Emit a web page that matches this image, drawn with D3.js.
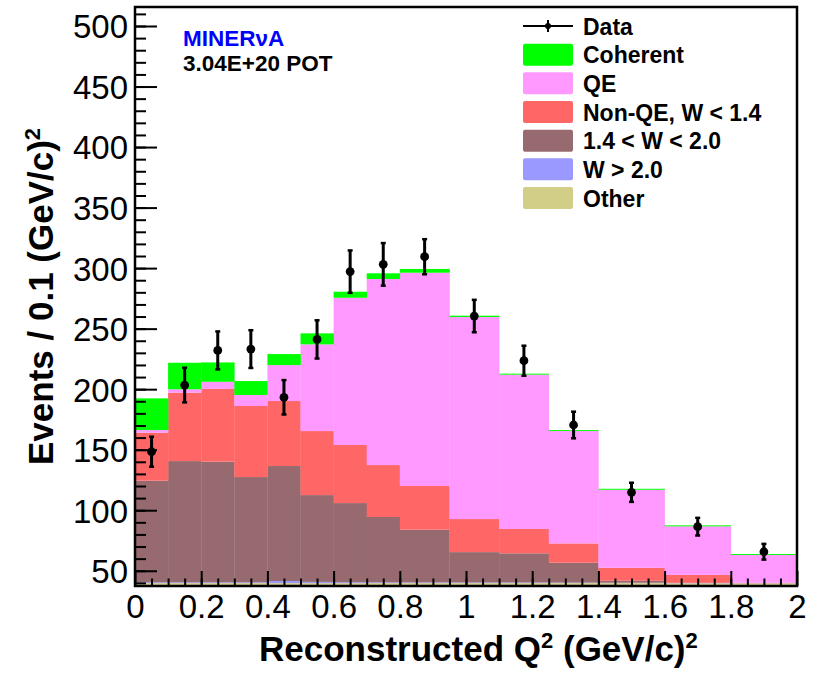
<!DOCTYPE html>
<html>
<head>
<meta charset="utf-8">
<script src="https://cdn.jsdelivr.net/npm/d3@7"></script>
<style>
  html, body { margin: 0; padding: 0; background: #ffffff; }
  svg { display: block; }
  text { font-family: "Liberation Sans", Arial, Helvetica, sans-serif; }
</style>
</head>
<body>
<svg id="chart" width="817" height="686"></svg>
<script>
// ---------------- DATA ----------------
const binEdges = [0, 0.1, 0.2, 0.3, 0.4, 0.5, 0.6, 0.7, 0.8, 0.95, 1.1, 1.25, 1.4, 1.6, 1.8, 2.0];

// stacked MC components (bottom to top), events / 0.1 (GeV/c)^2
const other     = [39.8, 39.8, 39.8, 39.8, 39.8, 39.8, 39.8, 39.8, 39.8, 39.8, 39.8, 39.8, 39.8, 39.6, 39.6];
const wAbove2   = [0.7, 0.7, 0.7, 0.7, 1.7, 1.0, 0.8, 0.7, 0.6, 0.5, 0.5, 0.4, 0.3, 0.2, 0.1];
const w14to20   = [83.9, 100.1, 99.6, 86.9, 95.0, 71.7, 65.3, 53.9, 43.5, 25.1, 24.1, 16.4, 1.6, 0.2, 0.1];
const nonQE     = [39.6, 56.5, 60.1, 58.7, 53.7, 52.9, 48.0, 42.9, 36.1, 27.3, 20.1, 16.0, 10.7, 6.6, 0.2];
const qe        = [2.2, 2.8, 5.9, 9.1, 29.7, 71.6, 121.6, 153.7, 176.2, 166.9, 127.5, 92.8, 64.5, 40.1, 23.0];
const coherent  = [26.2, 21.9, 16.0, 11.5, 9.1, 9.1, 5.0, 4.7, 3.1, 1.1, 0.8, 0.8, 0.8, 0.8, 0.8];

// data points
const dataX   = [0.05, 0.15, 0.25, 0.35, 0.45, 0.55, 0.65, 0.75, 0.875, 1.025, 1.175, 1.325, 1.5, 1.7, 1.9];
const dataY   = [148.3, 203.4, 232.0, 233.1, 193.3, 241.1, 297.1, 303.1, 309.4, 260.4, 223.5, 170.4, 114.8, 86.4, 65.7];
const dataErr = [12.4, 14.3, 15.7, 15.6, 14.2, 15.8, 17.5, 17.6, 14.5, 13.4, 12.4, 11.0, 7.9, 7.3, 6.5];

const seriesKeys   = ["other", "wAbove2", "w14to20", "nonQE", "qe", "coherent"];
const seriesLabels = {coherent: "Coherent", qe: "QE", nonQE: "Non-QE, W < 1.4", w14to20: "1.4 < W < 2.0", wAbove2: "W > 2.0", other: "Other"};
const legendOrder  = ["coherent", "qe", "nonQE", "w14to20", "wAbove2", "other"];

const xTickLabels = [0, 0.2, 0.4, 0.6, 0.8, 1, 1.2, 1.4, 1.6, 1.8, 2];
const yTickLabels = [50, 100, 150, 200, 250, 300, 350, 400, 450, 500];

// ---------------- STYLE ----------------
const colors = {
  coherent: "#00ff00",
  qe: "#ff99ff",
  nonQE: "#ff6666",
  w14to20: "#966a6f",
  wAbove2: "#9999ff",
  other: "#d2cd87"
};

const L = 135, R = 797, T = 7, B = 586;
const svg = d3.select("#chart");

const x = d3.scaleLinear().domain([0, 2]).range([L, R]);
const y = d3.scaleLinear().domain([37.4, 515.7]).range([B, T]);

const series = {other, wAbove2, w14to20, nonQE, qe, coherent};
const rows = binEdges.slice(0, -1).map((e, i) => {
  const r = {x0: e, x1: binEdges[i + 1]};
  seriesKeys.forEach(k => r[k] = series[k][i]);
  return r;
});
const stacked = d3.stack().keys(seriesKeys)(rows);

svg.append("defs").append("clipPath").attr("id", "plotclip")
  .append("rect").attr("x", L).attr("y", T).attr("width", R - L).attr("height", B - T);

const gBars = svg.append("g").attr("clip-path", "url(#plotclip)");
stacked.forEach(layer => {
  gBars.append("g").attr("fill", colors[layer.key])
    .selectAll("rect").data(layer).join("rect")
    .attr("x", d => x(d.data.x0))
    .attr("width", d => x(d.data.x1) - x(d.data.x0) + 0.3)
    .attr("y", d => y(d[1]))
    .attr("height", d => Math.max(0, y(Math.max(d[0], 0)) - y(d[1])));
});

// ---------------- AXES ----------------
const fontTick = 33;
// y minor
svg.append("g").attr("transform", `translate(${L},0)`)
  .call(d3.axisLeft(y).tickValues(d3.range(40, 516, 10)).tickSize(-11).tickFormat(""))
  .call(g => g.select(".domain").remove())
  .call(g => g.selectAll("line").attr("stroke", "#000").attr("stroke-width", 2));
// y major
svg.append("g").attr("transform", `translate(${L},0)`)
  .call(d3.axisLeft(y).tickValues(yTickLabels).tickSize(-22).tickPadding(7).tickFormat(d3.format("d")))
  .call(g => g.select(".domain").remove())
  .call(g => g.selectAll("line").attr("stroke", "#000").attr("stroke-width", 2))
  .call(g => g.selectAll("text").attr("fill", "#000").style("font-size", fontTick + "px").attr("dy", "0.36em"));

// x minor
svg.append("g").attr("transform", `translate(0,${B})`)
  .call(d3.axisBottom(x).tickValues(d3.range(0.05, 2, 0.05)).tickSize(-7.5).tickFormat(""))
  .call(g => g.select(".domain").remove())
  .call(g => g.selectAll("line").attr("stroke", "#000").attr("stroke-width", 2));
// x major
svg.append("g").attr("transform", `translate(0,${B})`)
  .call(d3.axisBottom(x).tickValues(xTickLabels).tickSize(-15).tickPadding(9).tickFormat(d3.format("")))
  .call(g => g.select(".domain").remove())
  .call(g => g.selectAll("line").attr("stroke", "#000").attr("stroke-width", 2))
  .call(g => g.selectAll("text").attr("fill", "#000").style("font-size", fontTick + "px"));

// frame
svg.append("rect").attr("x", L).attr("y", T).attr("width", R - L).attr("height", B - T)
  .attr("fill", "none").attr("stroke", "#000").attr("stroke-width", 2.5);

// ---------------- DATA POINTS ----------------
const gData = svg.append("g");
dataX.forEach((xv, i) => {
  const cx = x(xv), top = y(dataY[i] + dataErr[i]), bot = y(dataY[i] - dataErr[i]);
  gData.append("line").attr("x1", cx).attr("x2", cx).attr("y1", top).attr("y2", bot)
    .attr("stroke", "#000").attr("stroke-width", 3);
  [top, bot].forEach(yy => gData.append("line")
    .attr("x1", cx - 2.5).attr("x2", cx + 2.5).attr("y1", yy).attr("y2", yy)
    .attr("stroke", "#000").attr("stroke-width", 2.5));
  gData.append("circle").attr("cx", cx).attr("cy", y(dataY[i])).attr("r", 4.4).attr("fill", "#000");
});

// ---------------- LABELS ----------------
svg.append("text").attr("x", 183).attr("y", 46)
  .attr("fill", "#0000ff").style("font-size", "22.5px").style("font-weight", "bold")
  .text("MINERνA");
svg.append("text").attr("x", 183).attr("y", 71)
  .attr("fill", "#000").style("font-size", "22.5px").style("font-weight", "bold")
  .text("3.04E+20 POT");

// x title
const xt = svg.append("text").attr("x", 259).attr("y", 661)
  .attr("fill", "#000").style("font-size", "35px").style("font-weight", "bold");
xt.append("tspan").text("Reconstructed Q");
xt.append("tspan").attr("dy", -13).style("font-size", "22px").text("2");
xt.append("tspan").attr("dy", 13).text(" (GeV/c)");
xt.append("tspan").attr("dy", -13).style("font-size", "22px").text("2");

// y title
const yt = svg.append("text").attr("transform", "translate(53,465) rotate(-90)")
  .attr("fill", "#000").style("font-size", "35px").style("font-weight", "bold");
yt.append("tspan").text("Events / 0.1 (GeV/c)");
yt.append("tspan").attr("dy", -13).style("font-size", "22px").text("2");

// ---------------- LEGEND ----------------
const legY0 = 26, legStep = 28.67;
const leg = svg.append("g");
// Data entry
leg.append("line").attr("x1", 523).attr("x2", 573).attr("y1", legY0).attr("y2", legY0)
  .attr("stroke", "#000").attr("stroke-width", 2);
leg.append("line").attr("x1", 548).attr("x2", 548).attr("y1", legY0 - 6).attr("y2", legY0 + 6)
  .attr("stroke", "#000").attr("stroke-width", 2);
leg.append("circle").attr("cx", 548).attr("cy", legY0).attr("r", 3).attr("fill", "#000");
leg.append("text").attr("x", 583).attr("y", legY0 + 8.5).attr("fill", "#000")
  .style("font-size", "23px").style("font-weight", "bold").text("Data");

legendOrder.forEach((k, i) => {
  const cy = legY0 + (i + 1) * legStep;
  leg.append("rect").attr("x", 523).attr("y", cy - 11).attr("width", 50).attr("height", 22)
    .attr("rx", 2).attr("fill", colors[k]);
  leg.append("text").attr("x", 583).attr("y", cy + 8.5).attr("fill", "#000")
    .style("font-size", "23px").style("font-weight", "bold").text(seriesLabels[k]);
});
</script>
</body>
</html>
